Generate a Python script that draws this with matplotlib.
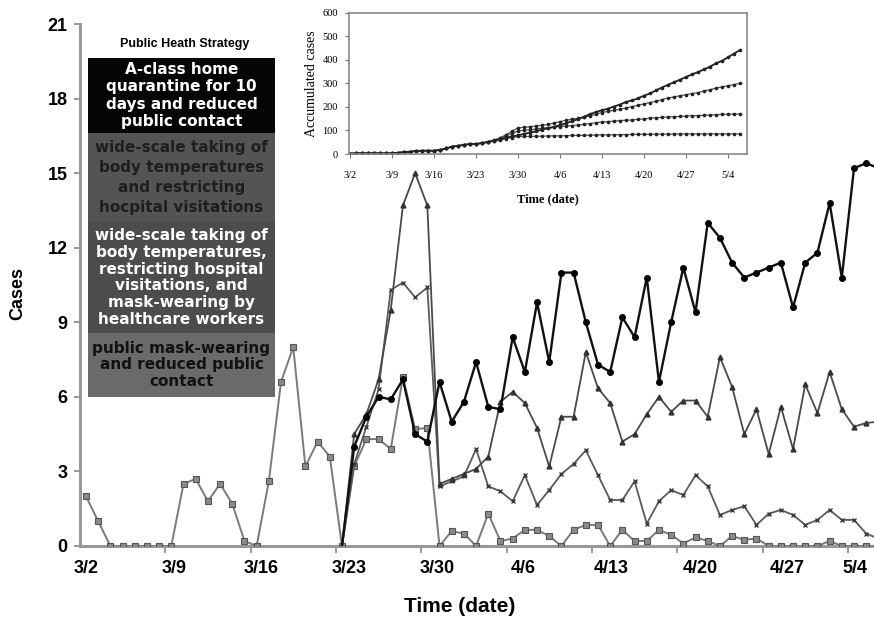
import numpy as np
import matplotlib
matplotlib.use('Agg')
import matplotlib.pyplot as plt
from matplotlib.patches import Rectangle

# observed daily cases 3/2 - 3/23, shared by every curve
observed = [2, 1, 0, 0, 0, 0, 0, 0, 2.5, 2.7, 1.8, 2.5, 1.7, 0.2, 0,
            2.6, 6.6, 8.0, 3.2, 4.2, 3.6, 0]

# simulated daily cases 3/24 - 5/5 for each strategy curve
black_vals = [4.0, 5.2, 6.0, 5.9, 6.7, 4.5, 4.2,
              6.6, 5.0, 5.8, 7.4, 5.6, 5.5, 8.4, 7.0, 9.8, 7.4, 11.0, 11.0,
              9.0, 7.3, 7.0, 9.2, 8.4, 10.8, 6.6, 9.0, 11.2, 9.4, 13.0, 12.4,
              11.4, 10.8, 11.0, 11.2, 11.4, 9.6, 11.4, 11.8, 13.8, 10.8, 15.2,
              15.4, 15.2]
tri_vals = [4.5, 5.3, 6.7, 9.5, 13.7, 15.0, 13.7,
            2.5, 2.7, 2.9, 3.1, 3.6, 5.8, 6.2, 5.75, 4.75, 3.2, 5.2, 5.2,
            7.8, 6.35, 5.75, 4.2, 4.5, 5.3, 6.0, 5.4, 5.85, 5.85, 5.2, 7.6,
            6.4, 4.5, 5.5, 3.7, 5.6, 3.9, 6.5, 5.35, 7.0, 5.5, 4.8, 4.95, 5.0]
cross_vals = [3.3, 4.8, 6.3, 10.3, 10.6, 10.0, 10.4,
              2.4, 2.6, 2.8, 3.9, 2.4, 2.2, 1.8, 2.85, 1.65, 2.25, 2.9, 3.3,
              3.85, 2.85, 1.85, 1.85, 2.6, 0.9, 1.8, 2.25, 2.05, 2.85, 2.4,
              1.25, 1.45, 1.6, 0.85, 1.3, 1.45, 1.25, 0.85, 1.05, 1.45, 1.05,
              1.05, 0.5, 0.3]
square_vals = [3.2, 4.3, 4.3, 3.9, 6.8, 4.7, 4.75,
               0, 0.6, 0.5, 0, 1.3, 0.2, 0.3, 0.65, 0.65, 0.4, 0, 0.65,
               0.85, 0.85, 0, 0.65, 0.2, 0.2, 0.65, 0.45, 0.1, 0.35, 0.2, 0,
               0.4, 0.25, 0.3, 0, 0, 0, 0, 0, 0.2, 0, 0, 0, 0]

tick_labels = ['3/2', '3/9', '3/16', '3/23', '3/30', '4/6', '4/13', '4/20', '4/27', '5/4']

strategies = [
    "A-class home\nquarantine for 10\ndays and reduced\npublic contact",
    "wide-scale taking of\nbody temperatures\nand restricting\nhocpital visitations",
    "wide-scale taking of\nbody temperatures,\nrestricting hospital\nvisitations, and\nmask-wearing by\nhealthcare workers",
    "public mask-wearing\nand reduced public\ncontact",
]

W, H = 874, 622
fig = plt.figure(figsize=(W / 100, H / 100), dpi=100)

n0 = len(observed)
days = np.arange(n0 + len(black_vals))

ax = fig.add_axes([80 / W, 1 - 546 / H, 794 / W, 522 / H])
ax.plot(days[:n0], observed, color='#7a7a7a', lw=1.4, marker='s', ms=4.5,
        mfc='#8a8a8a', mec='#555555', mew=0.8, zorder=3)

styles = [
    (square_vals, dict(color='#7a7a7a', lw=1.4, marker='s', ms=4.5, mfc='#8a8a8a', mec='#555555', mew=0.8)),
    (cross_vals, dict(color='#5a5a5a', lw=1.3, marker='x', ms=3.5, mec='#3a3a3a', mew=1.0)),
    (tri_vals, dict(color='#4a4a4a', lw=1.3, marker='^', ms=3.5, mfc='#333333', mec='#333333')),
    (black_vals, dict(color='#111111', lw=1.7, marker='o', ms=4, mfc='#000000', mec='#000000')),
]
for vals, st in styles:
    y = [observed[-1]] + vals
    ax.plot(days[n0 - 1:], y, markevery=slice(1, None), zorder=4, **st)

ax.set_xlim(-0.49, 64.64)
ax.set_ylim(0, 21)
ax.set_yticks(np.arange(0, 22, 3))
label_pos = [0, 7.2, 14.4, 21.6, 28.8, 35.9, 43.1, 50.4, 57.5, 63.1]
ax.set_xticks(label_pos)
ax.set_xticklabels(tick_labels)
ax.set_xticks(np.arange(6.5, 63, 7), minor=True)
for lab in ax.get_xticklabels() + ax.get_yticklabels():
    lab.set_fontfamily('Liberation Sans')
    lab.set_fontweight('bold')
    lab.set_fontsize(13)
ax.tick_params(axis='x', which='major', length=0, pad=10)
ax.tick_params(axis='x', which='minor', length=5, width=1.2, color='#888888', direction='out')
ax.tick_params(axis='y', length=4, width=1.2, color='#888888', direction='out', pad=5)
for s in ['top', 'right']:
    ax.spines[s].set_visible(False)
for s in ['left', 'bottom']:
    ax.spines[s].set_color('#999999')
    ax.spines[s].set_linewidth(2.2)

fig.text(18 / W, 1 - 293 / H, 'Cases', rotation=90, ha='center', va='center',
         family='Liberation Sans', weight='bold', fontsize=13)
fig.text(460 / W, 1 - 607 / H, 'Time (date)', ha='center', va='center',
         family='Liberation Sans', weight='bold', fontsize=15)

# inset: accumulated cases
ax_in = fig.add_axes([349 / W, 1 - 154 / H, 398 / W, 141 / H])
for vals, st in styles:
    full = np.array(observed + vals)
    top = st['marker'] == 'o'
    ax_in.plot(days, np.cumsum(full), color='#222222' if top else '#555555',
               lw=1.3 if top else 0.9, marker='o', ms=1.6,
               mfc='#222222', mec='#222222')
ax_in.set_xlim(-0.2, 66.2)
ax_in.set_ylim(0, 600)
ax_in.set_yticks(np.arange(0, 601, 100))
ax_in.set_xticks(np.arange(0, 64, 7))
ax_in.set_xticklabels(tick_labels)
for lab in ax_in.get_xticklabels() + ax_in.get_yticklabels():
    lab.set_fontfamily('Liberation Serif')
    lab.set_fontsize(7.5)
ax_in.tick_params(length=3, width=0.8, color='#777777')
ax_in.tick_params(axis='x', pad=9)
ax_in.tick_params(axis='y', pad=5)
for s in ax_in.spines.values():
    s.set_color('#888888')
    s.set_linewidth(1.2)
ax_in.set_ylabel('Accumulated cases', family='Liberation Serif', fontsize=10, labelpad=3)
ax_in.set_xlabel('Time (date)', family='Liberation Serif', weight='bold', fontsize=9, labelpad=10)

# strategy legend boxes drawn in pixel space
ov = fig.add_axes([0, 0, 1, 1])
ov.set_xlim(0, W)
ov.set_ylim(H, 0)
ov.axis('off')
ov.text(185, 44, 'Public Heath Strategy', ha='center', va='center',
        family='Liberation Sans', weight='bold', fontsize=9)
box_edges = [58, 133, 222, 333, 397]
box_colors = ['#050505', '#545454', '#4c4c4c', '#6a6a6a']
text_colors = ['white', '#1e1e1e', 'white', '#111111']
spacing = [1.22, 1.4, 1.15, 1.15]
for i, txt in enumerate(strategies):
    y0, y1 = box_edges[i], box_edges[i + 1]
    ov.add_patch(Rectangle((88, y0), 187, y1 - y0, facecolor=box_colors[i], edgecolor='none'))
    ov.text(181.5, (y0 + y1) / 2, txt, ha='center', va='center', color=text_colors[i],
            family='DejaVu Sans', weight='bold', fontsize=11, linespacing=spacing[i])

fig.savefig('out.png', dpi=100)
